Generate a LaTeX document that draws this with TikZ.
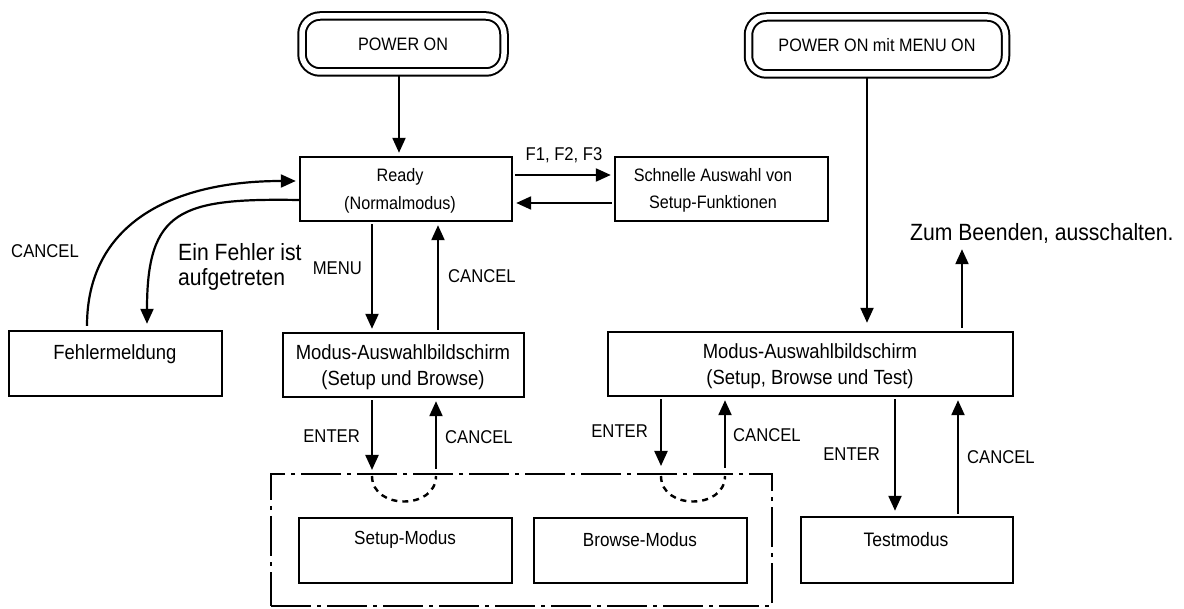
\documentclass[tikz,border=0pt]{standalone}
\usepackage{fontspec}
\setmainfont{Liberation Sans}[FakeStretch=0.9]
\usetikzlibrary{arrows.meta}
\begin{document}
\begin{tikzpicture}[x=1pt,y=-1pt,
  box/.style={draw, line width=2.4pt, rectangle, inner sep=0pt},
  txt/.style={align=center, inner sep=0pt, font=\fontsize{19}{26}\selectfont},
  lbl/.style={inner sep=0pt, font=\fontsize{18.5}{24}\selectfont},
  big/.style={inner sep=0pt, align=left, font=\fontsize{23.5}{25}\selectfont},
  arr/.style={line width=2.2pt, -{Triangle[length=15pt,width=13pt]}, shorten >=3pt, shorten <=2pt},
  pwr/.style={draw, double, line width=2pt, double distance=5.5pt, rounded corners=18pt, inner sep=0pt, font=\fontsize{18}{22}\selectfont},
  frame/.style={draw, line width=2pt, dash pattern=on 40pt off 6pt on 4pt off 6pt},
  semi/.style={line width=2.4pt, dash pattern=on 6pt off 5pt}
]
\useasboundingbox (0,0) rectangle (1184,609);
\fill[white] (0,0) rectangle (1184,609);

% start nodes
\node[pwr, minimum width=202pt, minimum height=56pt] (pon) at (403,44) {POWER ON};
\node[pwr, minimum width=257pt, minimum height=57pt] (pmo) at (877,45.5) {POWER ON mit MENU ON};

% boxes
\node[box, minimum width=212pt, minimum height=64pt] (ready) at (406,189) {};
\node[txt, font=\fontsize{18}{28}\selectfont] (readyT) at (400,191) {Ready\\(Normalmodus)};
\node[box, minimum width=213pt, minimum height=64pt] (quick) at (721.5,189) {};
\node[txt, font=\fontsize{18}{27}\selectfont] (quickT) at (713,190) {Schnelle Auswahl von\\Setup-Funktionen};
\node[box, minimum width=213pt, minimum height=65pt] (fehler) at (115.5,363.5) {};
\node[txt, font=\fontsize{20.5}{26}\selectfont] (fehlerT) at (115,354) {Fehlermeldung};
\node[box, minimum width=241pt, minimum height=64pt] (modL) at (403.5,365) {};
\node[txt, font=\fontsize{20.5}{26}\selectfont] (modLT) at (403,367) {Modus-Auswahlbildschirm\\(Setup und Browse)};
\node[box, minimum width=405pt, minimum height=64pt] (modR) at (810.5,364) {};
\node[txt, font=\fontsize{20.5}{26}\selectfont] (modRT) at (810,366) {Modus-Auswahlbildschirm\\(Setup, Browse und Test)};
\node[frame, minimum width=501pt, minimum height=132pt] (dbox) at (521.5,540) {};
\node[box, minimum width=213pt, minimum height=65pt] (setup) at (405.5,550.5) {};
\node[txt] (setupT) at (405,540) {Setup-Modus};
\node[box, minimum width=213pt, minimum height=65pt] (browse) at (640.5,550.5) {};
\node[txt] (browseT) at (640,540) {Browse-Modus};
\node[box, minimum width=212pt, minimum height=66pt] (test) at (907,550) {};
\node[txt, font=\fontsize{19.5}{26}\selectfont] (testT) at (906,540) {Testmodus};

% labels
\node[lbl] (lf) at (564,155) {F1, F2, F3};
\node[lbl, anchor=east] (lmenu) at (362,268) {MENU};
\node[lbl, anchor=west] (lc1) at (448,276) {CANCEL};
\node[lbl] (lc0) at (45,251) {CANCEL};
\node[big, anchor=west] (lerr) at (178,267) {Ein Fehler ist\\aufgetreten};
\node[lbl, anchor=east] (le1) at (360,436) {ENTER};
\node[lbl, anchor=west] (lc2) at (445,437) {CANCEL};
\node[lbl, anchor=east] (le2) at (648,431) {ENTER};
\node[lbl, anchor=west] (lc3) at (733,435) {CANCEL};
\node[lbl, anchor=east] (le3) at (880,454) {ENTER};
\node[lbl, anchor=west] (lc4) at (967,457) {CANCEL};
\node[big, anchor=west] (zum) at (910,233) {Zum Beenden, ausschalten.};

% x / y positions of connectors
\coordinate (xP) at (399,0);
\coordinate (yF) at (0,175);
\coordinate (yB) at (0,203);
\coordinate (xM) at (372,0);
\coordinate (xMC) at (438,0);
\coordinate (xEA) at (372,0);
\coordinate (xCA) at (436,0);
\coordinate (xEB) at (661,0);
\coordinate (xCB) at (725,0);
\coordinate (xD) at (867,0);
\coordinate (xZ) at (962,0);
\coordinate (xE2) at (895,0);
\coordinate (xC2) at (958,0);
\coordinate (xFC) at (87,0);
\coordinate (xFE) at (147,0);
\coordinate (yC) at (0,181);
\coordinate (yE) at (0,200);
\coordinate (zumB) at ([yshift=-6pt]zum.south);

% connectors
\draw[arr] (pon.south -| xP) -- (ready.north -| xP);
\draw[arr] (ready.east |- yF) -- (quick.west |- yF);
\draw[arr] (quick.west |- yB) -- (ready.east |- yB);
\draw[arr] (ready.south -| xM) -- (modL.north -| xM);
\draw[arr] (modL.north -| xMC) -- (ready.south -| xMC);
\draw[arr] (modL.south -| xEA) -- (dbox.north -| xEA);
\draw[arr, shorten <=4pt] (dbox.north -| xCA) -- (modL.south -| xCA);
\draw[arr, shorten >=7pt] (modR.south -| xEB) -- (dbox.north -| xEB);
\draw[arr, shorten <=5pt] (dbox.north -| xCB) -- (modR.south -| xCB);
\draw[arr, shorten >=8pt] (pmo.south -| xD) -- (modR.north -| xD);
\draw[arr, shorten <=3pt, shorten >=0pt] (modR.north -| xZ) -- (zumB -| xZ);
\draw[arr, shorten >=5pt] (modR.south -| xE2) -- (test.north -| xE2);
\draw[arr] (test.north -| xC2) -- (modR.south -| xC2);
\draw[arr, shorten <=4pt] (fehler.north -| xFC) .. controls (87,225) and (170,181) .. (ready.west |- yC);
\draw[arr, shorten <=0pt, shorten >=6pt] (ready.west |- yE) .. controls (180,198) and (147,210) .. (fehler.north -| xFE);

% dashed half loops
\draw[semi] (372,476) .. controls (372,510) and (436,510) .. (436,476);
\draw[semi] (661,476) .. controls (661,510) and (725,510) .. (725,476);
\end{tikzpicture}
\end{document}
